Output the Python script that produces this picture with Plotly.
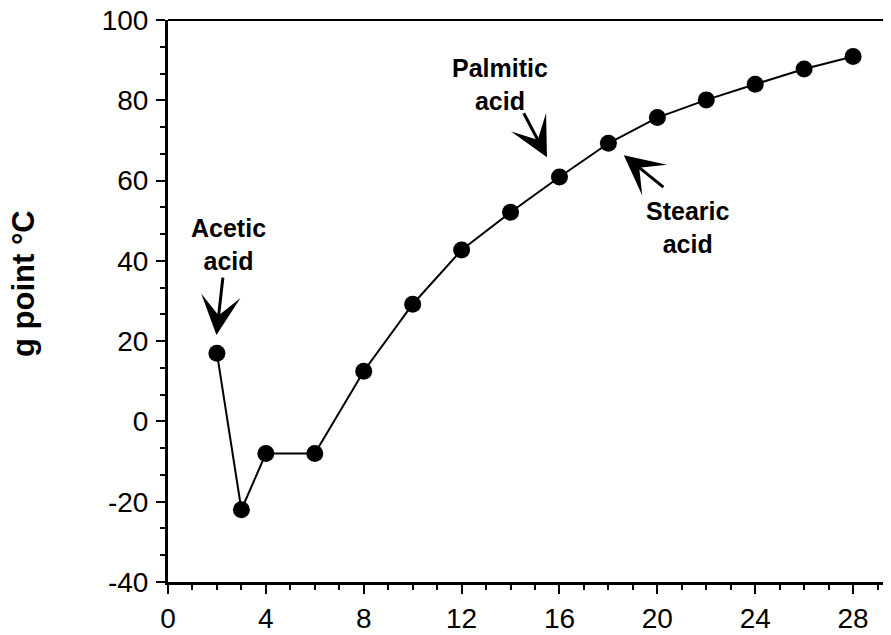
import plotly.graph_objects as go

# ---- data ----
carbons = [2, 3, 4, 6, 8, 10, 12, 14, 16, 18, 20, 22, 24, 26, 28]
melting_c = [17, -22, -8, -8, 12.5, 29.2, 42.7, 52.1, 60.9, 69.3, 75.7, 80.1, 84.0, 87.8, 90.9]

x_tick_vals = [0, 4, 8, 12, 16, 20, 24, 28]
x_tick_text = ["0", "4", "8", "12", "16", "20", "24", "28"]
y_tick_vals = [-40, -20, 0, 20, 40, 60, 80, 100]
y_tick_text = ["-40", "-20", "0", "20", "40", "60", "80", "100"]

label_texts = ["Acetic<br>acid", "Palmitic<br>acid", "Stearic<br>acid"]
y_title_text = "g point °C"

# annotation placement (data coordinates)
label_pos_x = [2.48, 13.56, 21.23]
label_pos_y = [44.2, 84.0, 48.3]
arrow_tip_x = [1.98, 15.49, 18.63]
arrow_tip_y = [21.5, 65.8, 66.3]
arrow_tail_x = [2.25, 14.51, 20.31]
arrow_tail_y = [36.2, 77.15, 58.05]

FONT = "Liberation Sans, Arial, Helvetica, sans-serif"

fig = go.Figure()
fig.add_trace(go.Scatter(
    x=carbons, y=melting_c, mode="lines+markers",
    line=dict(color="black", width=2),
    marker=dict(color="black", size=17),
    showlegend=False, hoverinfo="skip",
))

annotations = []
for t, lx, ly in zip(label_texts, label_pos_x, label_pos_y):
    annotations.append(dict(
        x=lx, y=ly, xref="x", yref="y", text="<b>" + t + "</b>",
        showarrow=False, font=dict(family=FONT, size=25, color="black"),
        align="center", xanchor="center", yanchor="middle",
    ))
for tx, ty, ax, ay in zip(arrow_tip_x, arrow_tip_y, arrow_tail_x, arrow_tail_y):
    annotations.append(dict(
        x=tx, y=ty, xref="x", yref="y", ax=ax, ay=ay, axref="x", ayref="y",
        text="", showarrow=True, arrowhead=3, arrowsize=2.2, arrowwidth=3,
        arrowcolor="black", standoff=0, startstandoff=0,
    ))
annotations.append(dict(
    x=-0.200, y=0.531, xref="paper", yref="paper", text="<b>" + y_title_text + "</b>",
    textangle=-90, showarrow=False, xanchor="center", yanchor="middle",
    font=dict(family=FONT, size=31, color="black"),
))

fig.update_layout(
    width=883, height=627,
    margin=dict(l=160, r=0, t=12, b=53),
    paper_bgcolor="white", plot_bgcolor="white",
    font=dict(family=FONT, size=28, color="black"),
    annotations=annotations,
    shapes=[dict(type="line", xref="paper", yref="paper", x0=0, x1=1, y0=1, y1=1,
                 line=dict(color="black", width=2))],
)
fig.update_xaxes(
    range=[0, 29.55], tickmode="array", tickvals=x_tick_vals, ticktext=x_tick_text,
    automargin=False, ticklabeloverflow="allow",
    showgrid=False, zeroline=False, showline=True, linecolor="black", linewidth=3,
    ticks="outside", ticklen=9, tickwidth=2, tickcolor="black",
    tickfont=dict(family=FONT, size=28, color="black"),
    minor=dict(dtick=1, tick0=0, ticks="outside", ticklen=5, tickwidth=2, tickcolor="black"),
)
fig.update_yaxes(
    range=[-40, 100], tickmode="array", tickvals=y_tick_vals, ticktext=y_tick_text,
    automargin=False, ticklabeloverflow="allow", ticklabelstandoff=2,
    showgrid=False, zeroline=False, showline=True, linecolor="black", linewidth=3,
    ticks="outside", ticklen=9, tickwidth=2, tickcolor="black",
    tickfont=dict(family=FONT, size=28, color="black"),
    minor=dict(dtick=20 / 3, tick0=-40, ticks="outside", ticklen=5, tickwidth=2, tickcolor="black"),
)

fig.write_html("out.html")
